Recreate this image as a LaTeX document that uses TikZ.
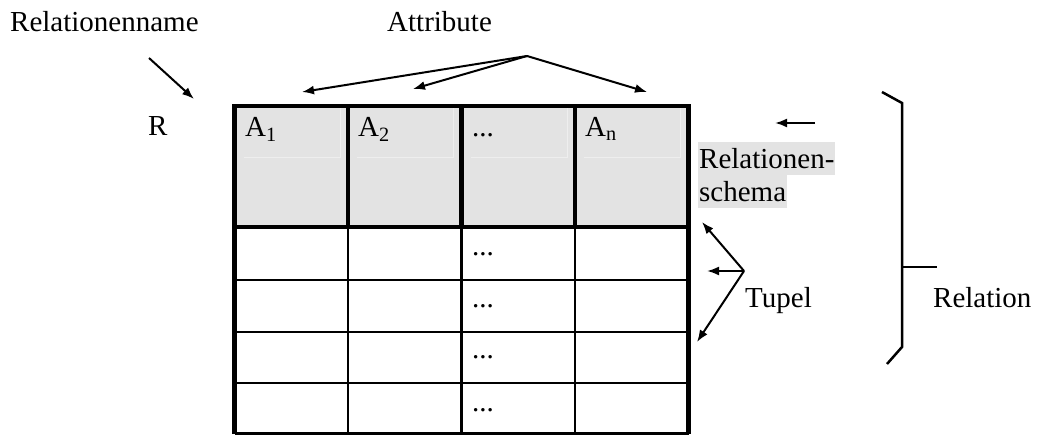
\documentclass[tikz,border=0pt]{standalone}
\usepackage{fontspec}
\setmainfont{Liberation Serif}
\usetikzlibrary{arrows.meta}
\definecolor{headgray}{HTML}{E3E3E3}
\definecolor{faintgray}{HTML}{EEEEEE}

\begin{document}
\begin{tikzpicture}[
  x=1pt, y=-1pt,
  font=\fontsize{29}{34}\selectfont,
  lab/.style={anchor=base west, inner sep=0pt},
  hilite/.style={anchor=base west, fill=headgray, inner sep=0pt, inner xsep=1pt, text height=27pt, text depth=6.5pt},
  ptr/.style={-{Latex[length=12pt,width=9pt]}, line width=2pt},
  heavy/.style={line width=4.5pt},
  thin/.style={line width=2.2pt},
  faint/.style={faintgray, line width=1pt},
  brace/.style={line width=2.5pt}]
\useasboundingbox (0,0) rectangle (1038,435);
\fill[headgray] (234.5,106) rectangle (688.5,227);
\foreach \c in {234.5,348,461.5,575}
  \draw[faint] (\c+9,158) -- (\c+105.5,158) -- (\c+105.5,108);
\foreach \r in {280,332,383,433.5}
  \draw[thin] (234.5,\r) -- (688.5,\r);
\foreach \c in {348,461.5,575}
  \draw[thin] (\c,227) -- (\c,433.5);
\foreach \c in {348,461.5,575}
  \draw[heavy] (\c,106) -- (\c,227);
\draw[heavy] (234.5,227) -- (688.5,227);
\draw[heavy] (234.5,434) -- (234.5,106) -- (688.5,106) -- (688.5,434);
\node[lab] (relname) at (10,32) {Relationenname};
\node[lab] (attr) at (387,32) {Attribute};
\node[lab] (rname) at (148,136) {R};
\node[lab] (a1) at (245,137) {A\textsubscript{1}};
\node[lab] (a2) at (358,137) {A\textsubscript{2}};
\node[lab] (adots) at (472,137) {...};
\node[lab] (an) at (585,137) {A\textsubscript{n}};
\foreach \r/\y in {1/256,2/308,3/358,4/411}
  \node[lab] (tdots\r) at (472,\y) {...};
\node[hilite] (schema1) at (698,169) {Relationen-};
\node[hilite] (schema2) at (698,202) {schema};
\node[lab] (tupel) at (745,308) {Tupel};
\node[lab] (relation) at (933,308) {Relation};
\coordinate (namefrom) at (149,58);
\coordinate (nameto) at (194,99);
\coordinate (attrfrom) at (527,56);
\coordinate (attrto1) at (302,92);
\coordinate (attrto2) at (413,89);
\coordinate (attrton) at (647,92);
\coordinate (schemafrom) at (815,123);
\coordinate (schemato) at (775,123);
\coordinate (tupelfrom) at (744,271);
\coordinate (tupelto1) at (702,222);
\coordinate (tupelto2) at (707,271);
\coordinate (tupelto3) at (697,342);
\coordinate (bracetop) at (882,92);
\coordinate (bracebot) at (887,364);
\coordinate (bracemid) at (902,267);
\draw[ptr] (namefrom) -- (nameto);
\draw[ptr] (attrfrom) -- (attrto1);
\draw[ptr] (attrfrom) -- (attrto2);
\draw[ptr] (attrfrom) -- (attrton);
\draw[ptr] (schemafrom) -- (schemato);
\draw[ptr] (tupelfrom) -- (tupelto1);
\draw[ptr] (tupelfrom) -- (tupelto2);
\draw[ptr] (tupelfrom) -- (tupelto3);
\draw[brace] (bracetop) -- (902,103) -- (902,347) -- (bracebot);
\draw[brace] (bracemid) -- ++(35,0);
\end{tikzpicture}
\end{document}
